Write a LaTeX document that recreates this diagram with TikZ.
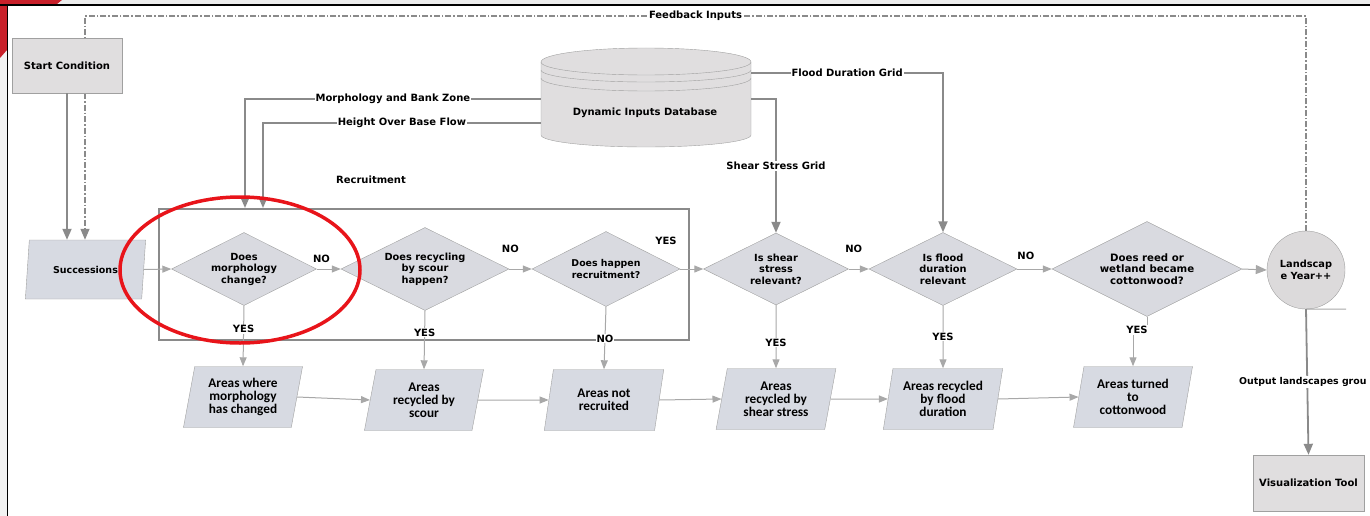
\documentclass[tikz,border=0pt]{standalone}
\usepackage{fontspec}
\setmainfont{DejaVu Sans}
\newfontfamily\cond{Carlito}
\usetikzlibrary{shapes.geometric,arrows.meta,calc}

\definecolor{lineg}{HTML}{8A8A8A}
\definecolor{lightline}{HTML}{A8A8A8}
\definecolor{boxline}{HTML}{A0A0A0}
\definecolor{greyfill}{HTML}{E0DEDF}
\definecolor{decfill}{HTML}{D9DAE0}
\definecolor{parafill}{HTML}{D7DAE2}
\definecolor{circfill}{HTML}{DCDADB}
\definecolor{marker}{HTML}{E8141A}
\definecolor{slidered}{HTML}{C8202A}

\begin{document}
\begin{tikzpicture}[x=1pt,y=-1pt,
  font=\bfseries\fontsize{10}{12}\selectfont,
  headbig/.style={-{Triangle[length=11pt,width=9pt]}},
  headsmall/.style={-{Triangle[length=9pt,width=7pt]}},
  feed/.style={draw=lineg,line width=1.3pt,dash pattern=on 6pt off 2pt on 1.5pt off 2pt},
  heavy/.style={draw=lineg,line width=1.8pt},
  thinline/.style={draw=lightline,line width=1pt},
  greybox/.style={rectangle,draw=boxline,fill=greyfill,inner sep=2pt,align=center},
  decision/.style={diamond,draw=boxline,fill=decfill,inner sep=0pt,aspect=2,align=center,
    font=\bfseries\fontsize{9.8}{11.5}\selectfont},
  para/.style={trapezium,trapezium stretches=true,trapezium left angle=78,
    trapezium right angle=102,draw=boxline,fill=parafill,inner sep=1pt,
    minimum width=120pt,minimum height=61pt,align=center,
    font=\cond\bfseries\fontsize{13.3}{12.8}\selectfont},
  lbl/.style={fill=white,inner sep=1pt},
]
\useasboundingbox (0,0) rectangle (1370,516);

% slide frame
\fill[gray!15] (0,0) rectangle (1370,5);
\fill[gray!10] (0,0) rectangle (7,516);
\fill[slidered] (0,0) -- (62,0) -- (57,4) -- (7,4) -- (7,50) -- (0,58) -- cycle;
\draw[black,line width=2pt] (0,5) -- (1370,5);
\draw[black,line width=1.5pt] (7.5,4) -- (7.5,516);

% ---------- nodes ----------
\node[greybox,minimum width=110pt,minimum height=55pt] (start) at (67,65.5) {Start Condition};
\node[trapezium,trapezium stretches=true,trapezium left angle=76,trapezium right angle=104,
  draw=boxline,fill=parafill,minimum width=121pt,minimum height=59pt,inner sep=1pt,
  font=\bfseries\fontsize{9.5}{11}\selectfont] (succ) at (85.5,269.5) {Successions};

\node[draw=lineg,line width=2pt,minimum width=530pt,minimum height=131pt] (recbox) at (424,274.5) {};
\node (rectitle) at (371,180) {Recruitment};

\node[decision,minimum width=145pt,minimum height=73pt] (d1) at (244,269) {Does\\morphology\\change?};
\node[decision,minimum width=168pt,minimum height=83pt] (d2) at (425,269) {Does recycling\\by scour\\happen?};
\node[decision,minimum width=148pt,minimum height=75pt,font=\bfseries\fontsize{9.4}{11.5}\selectfont] (d3) at (606,269) {Does happen\\recruitment?};
\node[decision,minimum width=145pt,minimum height=72pt] (d4) at (776,269) {Is shear\\stress\\relevant?};
\node[decision,minimum width=148pt,minimum height=73pt] (d5) at (943,269) {Is flood\\duration\\relevant};
\node[decision,minimum width=190pt,minimum height=95pt,font=\bfseries\fontsize{10.2}{11.5}\selectfont] (d6) at (1147,269) {Does reed or\\wetland became\\cottonwood?};

\node[circle,draw=boxline,fill=circfill,minimum size=78pt,inner sep=0pt,align=center,
  font=\bfseries\fontsize{9.8}{11.5}\selectfont] (land) at (1306,270) {Landscap\\e Year++};
\node[greybox,minimum width=111pt,minimum height=56pt] (viz) at (1308.5,483) {Visualization Tool};

\node[para] (pa) at (243,397) {Areas where\\morphology\\has changed};
\node[para] (pb) at (424,400) {Areas\\recycled by\\scour};
\node[para] (pc) at (604,400) {Areas not\\recruited};
\node[para] (pd) at (776,399) {Areas\\recycled by\\shear stress};
\node[para] (pe) at (943,399) {Areas recycled\\by flood\\duration};
\node[para] (pf) at (1133,397) {Areas turned\\to\\cottonwood};

% dynamic inputs database (cylinder with layered lid)
\coordinate (db) at (646,98);
\fill[greyfill] (541,62) -- (541,135) arc[start angle=180,end angle=360,x radius=105pt,y radius=12pt]
  -- (751,62) arc[start angle=0,end angle=180,x radius=105pt,y radius=14pt] -- cycle;
\draw[boxline] (541,62) -- (541,135) arc[start angle=180,end angle=360,x radius=105pt,y radius=12pt]
  -- (751,62) arc[start angle=0,end angle=180,x radius=105pt,y radius=14pt];
\draw[boxline] (541,62) arc[start angle=180,end angle=360,x radius=105pt,y radius=13pt];
\draw[boxline] (541,70) arc[start angle=180,end angle=360,x radius=105pt,y radius=12pt];
\draw[boxline] (541,78) arc[start angle=180,end angle=360,x radius=105pt,y radius=13pt];
\node[minimum width=210pt,minimum height=99pt,inner sep=0pt] (dbbox) at (db) {};
\node (dbtext) at (645,113) {Dynamic Inputs Database};

% ---------- bend points ----------
\coordinate (mbz) at (245,99);
\coordinate (hobf) at (263,123);
\coordinate (fdg) at (943,73);
\coordinate (ssg) at (776,99);
\coordinate (fbL) at (85,16);
\coordinate (fbR) at (1306,16);
\coordinate (tail) at (1346,309);

% feedback loop
\draw[feed] (land.north) -- (fbR) -- node[lbl]{Feedback Inputs} (fbL) -- (fbL |- start.north);
\draw[feed,headbig] (fbL |- start.south) -- (fbL |- succ.north);
% redraw start box above the dashed line
\node[greybox,minimum width=110pt,minimum height=55pt] at (start) {Start Condition};
\draw[heavy,headbig] (start.south) -- (start.south |- succ.north);

% database feeds
\draw[heavy,headbig] (dbbox.west |- mbz) -- node[lbl]{Morphology and Bank Zone} (mbz) -- (mbz |- recbox.north);
\draw[heavy,headbig] (dbbox.west |- hobf) -- node[lbl]{Height Over Base Flow} (hobf) -- (hobf |- recbox.north);
\draw[heavy,headbig] (dbbox.east |- fdg) -- node[lbl]{Flood Duration Grid} (fdg) -- (d5.north);
\draw[heavy,headbig] (dbbox.east |- ssg) -- (ssg) -- node[lbl]{Shear Stress Grid} (d4.north);

% main decision chain
\draw[thinline,headsmall] (succ.east) -- (d1.west);
\draw[thinline,headsmall] (d1.east) -- node[above=3pt,pos=0.2]{NO} (d2.west);
\draw[thinline,headsmall] (d2.east) -- node[above=13pt,pos=0.05]{NO} (d3.west);
\draw[thinline,headsmall] (d3.east) -- (d4.west);
\node (yes3) at (666,241) {YES};
\draw[thinline,headsmall] (d4.east) -- node[above=13pt,pos=0.25]{NO} (d5.west);
\draw[thinline,headsmall] (d5.east) -- node[above=6pt,pos=0.25]{NO} (d6.west);
\draw[thinline,headbig] (d6.east) -- (land.west);

% outcomes
\draw[thinline,headsmall] (d1.south) -- node[lbl,pos=0.39]{YES} (pa.north);
\draw[thinline,headsmall] (d2.south) -- node[lbl,pos=0.37]{YES} (pb.north);
\draw[thinline,headsmall] (d3.south) -- node[lbl,pos=0.51]{NO} (pc.north);
\draw[thinline,headsmall] (d4.south) -- node[lbl,pos=0.59]{YES} (pd.north);
\draw[thinline,headsmall] (d5.south) -- node[lbl,pos=0.49]{YES} (pe.north);
\node[lbl] (yes6) at (1137,330) {YES};
\draw[thinline] (d6.south) -- (d6.south |- yes6.north);
\draw[thinline,headsmall] (yes6.south -| pf.north) -- (pf.north);

% outcome chain
\draw[thinline,headsmall] (pa.east) -- (pb.west);
\draw[thinline,headsmall] (pb.east) -- (pc.west);
\draw[thinline,headsmall] (pc.east) -- (pd.west);
\draw[thinline,headsmall] (pd.east) -- (pe.west);
\draw[thinline,headsmall] (pe.east) -- (pf.west);

% output to visualization
\draw[thinline] (land.south) -- (tail);
\draw[heavy,headbig] (land.south) -- node[lbl,pos=0.5,anchor=west,xshift=-70pt,font=\bfseries\fontsize{9.4}{11}\selectfont]{Output landscapes grou} (viz.north);

% highlight marker
\draw[marker,line width=3.5pt] (240,270) ellipse[x radius=120pt,y radius=73pt];
\end{tikzpicture}
\end{document}
